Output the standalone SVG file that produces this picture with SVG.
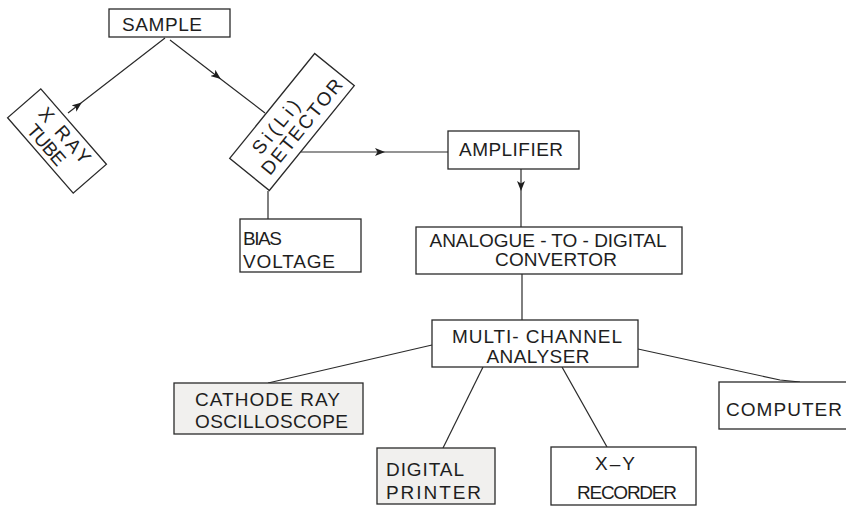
<svg xmlns="http://www.w3.org/2000/svg" width="846" height="508" viewBox="0 0 846 508">
<style>
.box{fill:#fff;stroke:#2a2a2a;stroke-width:1.3}
.grey{fill:#f1f0ee}
.t{font-family:"Liberation Sans",Arial,sans-serif;font-size:19px;fill:#1e1e1e}
.m{text-anchor:middle}
.c{fill:none;stroke:#2a2a2a;stroke-width:1.2}
.a{marker-mid:url(#arr)}
</style>
<defs>
<marker id="arr" markerUnits="userSpaceOnUse" markerWidth="10" markerHeight="8" viewBox="0 0 10 8" refX="9" refY="4" orient="auto">
<path d="M0,0 L10,4 L0,8 L2.5,4 z" fill="#1e1e1e"/>
</marker>
</defs>
<rect width="846" height="508" fill="#fff"/>
<g id="connectors">
<path class="c a" d="M68,113 L81,103 L165,38"/>
<path class="c a" d="M170,40 L220,78.4 L265,113"/>
<path class="c a" d="M301,152 L384,152 L448,152"/>
<path class="c" d="M268,191 L268,219"/>
<path class="c a" d="M521,169 L521,190 L521,227"/>
<path class="c" d="M522,274 L522,320"/>
<path class="c" d="M432,345 L268,383"/>
<path class="c" d="M483,367 L443,448"/>
<path class="c" d="M562,367 L607,447"/>
<path class="c" d="M638,349 L780,380 L800,382"/>
</g>
<g id="sample">
<rect class="box" x="109" y="9" width="121" height="28"/>
<text class="t m" x="162" y="31" font-size="18" textLength="80">SAMPLE</text>
</g>
<g id="xray-tube" transform="translate(57,141) rotate(49)">
<rect class="box" x="-50" y="-22" width="100" height="44"/>
<text class="t m" x="1" y="-3" font-size="17" textLength="68">X RAY</text>
<text class="t m" x="-4" y="17" font-size="17" textLength="48">TUBE</text>
</g>
<g id="detector" transform="translate(292,122) rotate(-51)">
<rect class="box" x="-67.5" y="-25.5" width="135" height="51"/>
<text class="t" x="-46" y="-3" font-size="19" textLength="64">Si(Li)</text>
<text class="t" x="-56" y="17" font-size="19" textLength="117">DETECTOR</text>
</g>
<g id="bias-voltage">
<rect class="box" x="240" y="219" width="121" height="53"/>
<text class="t" x="243" y="245" textLength="39">BIAS</text>
<text class="t" x="243" y="268" textLength="92">VOLTAGE</text>
</g>
<g id="amplifier">
<rect class="box" x="448" y="131" width="131" height="38"/>
<text class="t m" x="511" y="156" textLength="104">AMPLIFIER</text>
</g>
<g id="adc">
<rect class="box" x="416" y="227" width="266" height="47"/>
<text class="t m" x="548" y="247" textLength="237">ANALOGUE - TO - DIGITAL</text>
<text class="t m" x="556" y="266" textLength="122">CONVERTOR</text>
</g>
<g id="mca">
<rect class="box" x="432" y="320" width="206" height="47"/>
<text class="t m" x="537" y="343" font-size="18" textLength="170">MULTI- CHANNEL</text>
<text class="t m" x="538" y="363" font-size="18" textLength="103">ANALYSER</text>
</g>
<g id="cro">
<rect class="box grey" x="174" y="383" width="189" height="51"/>
<text class="t" x="195" y="406" font-size="20" textLength="145">CATHODE  RAY</text>
<text class="t" x="195" y="428" font-size="20" textLength="153">OSCILLOSCOPE</text>
</g>
<g id="digital-printer">
<rect class="box grey" x="377" y="448" width="118" height="56"/>
<text class="t" x="386" y="476" font-size="20" textLength="78">DIGITAL</text>
<text class="t" x="386" y="499" font-size="20" textLength="95">PRINTER</text>
</g>
<g id="xy-recorder">
<rect class="box" x="551" y="447" width="145" height="58"/>
<text class="t m" x="615" y="470" font-size="19" textLength="40">X–Y</text>
<text class="t m" x="627" y="499" font-size="18" textLength="100">RECORDER</text>
</g>
<g id="computer">
<rect class="box" x="719" y="382" width="130" height="47"/>
<text class="t" x="726" y="416" font-size="20" textLength="116">COMPUTER</text>
</g>
</svg>
